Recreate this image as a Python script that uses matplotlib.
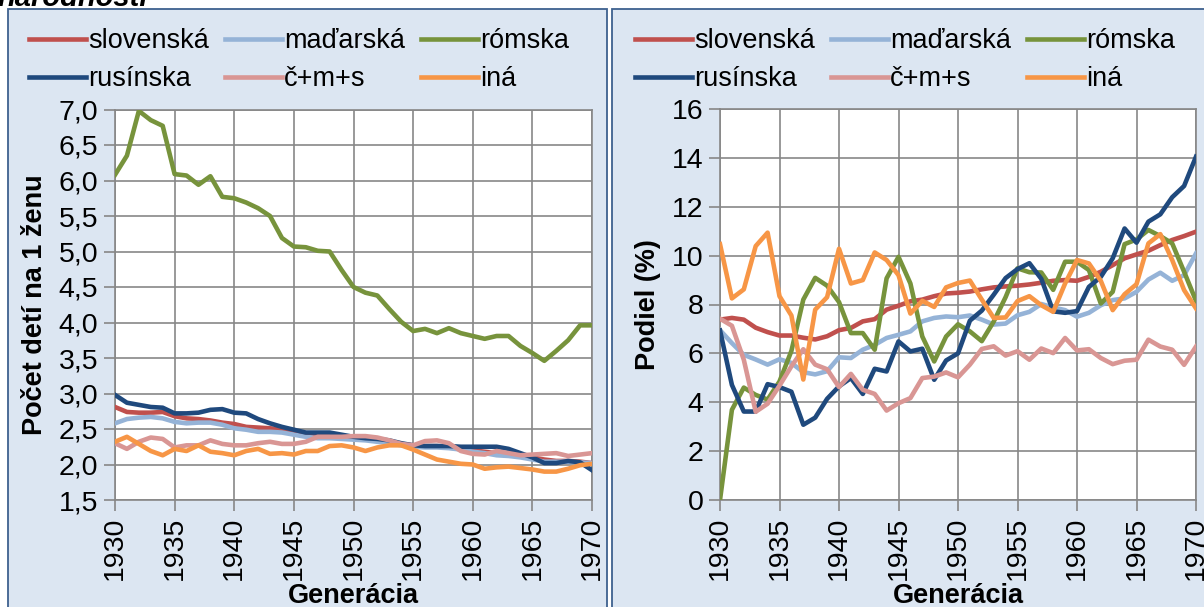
import numpy as np
import matplotlib
matplotlib.use("Agg")
import matplotlib.pyplot as plt
from matplotlib.patches import Rectangle

plt.rcParams['font.family'] = ['Liberation Sans', 'DejaVu Sans']

years = np.arange(1930, 1971)
names = ['slovenská', 'maďarská', 'rómska', 'rusínska', 'č+m+s', 'iná']
colors = ['#C0504D', '#95B3D7', '#77933C', '#1F497D', '#D99694', '#F79646']

# počet detí na 1 ženu
slov_f = [2.81, 2.74, 2.73, 2.73, 2.74, 2.68, 2.65, 2.64, 2.62, 2.59, 2.57,
          2.53, 2.52, 2.51, 2.49, 2.46, 2.44, 2.43, 2.42, 2.40, 2.38,
          2.36, 2.34, 2.31, 2.29, 2.27, 2.26, 2.26, 2.24, 2.22, 2.20,
          2.18, 2.16, 2.14, 2.12, 2.10, 2.07, 2.05, 2.05, 2.04, 2.02]
mad_f = [2.58, 2.64, 2.66, 2.67, 2.65, 2.60, 2.58, 2.59, 2.59, 2.56, 2.51,
         2.49, 2.46, 2.46, 2.45, 2.42, 2.39, 2.37, 2.37, 2.36, 2.35,
         2.34, 2.32, 2.30, 2.27, 2.25, 2.24, 2.24, 2.23, 2.21, 2.18,
         2.16, 2.13, 2.12, 2.10, 2.07, 2.04, 2.04, 2.04, 2.03, 2.02]
rom_f = [6.08, 6.35, 6.98, 6.85, 6.77, 6.09, 6.07, 5.94, 6.06, 5.77, 5.75,
         5.69, 5.61, 5.50, 5.19, 5.07, 5.06, 5.01, 5.00, 4.74, 4.50,
         4.42, 4.38, 4.19, 4.01, 3.88, 3.91, 3.85, 3.92, 3.85, 3.81,
         3.77, 3.81, 3.81, 3.67, 3.57, 3.46, 3.60, 3.75, 3.96, 3.96]
rus_f = [2.98, 2.87, 2.84, 2.81, 2.80, 2.72, 2.72, 2.73, 2.77, 2.78, 2.73,
         2.72, 2.64, 2.58, 2.53, 2.49, 2.45, 2.45, 2.45, 2.42, 2.39,
         2.37, 2.36, 2.34, 2.30, 2.27, 2.26, 2.26, 2.26, 2.25, 2.25,
         2.25, 2.25, 2.22, 2.16, 2.10, 2.02, 2.02, 2.05, 2.03, 1.92]
cms_f = [2.30, 2.22, 2.32, 2.38, 2.36, 2.24, 2.27, 2.27, 2.34, 2.29, 2.27,
         2.27, 2.30, 2.32, 2.29, 2.29, 2.32, 2.39, 2.39, 2.39, 2.40,
         2.40, 2.38, 2.34, 2.29, 2.27, 2.33, 2.34, 2.30, 2.19, 2.15,
         2.14, 2.19, 2.16, 2.13, 2.14, 2.15, 2.16, 2.12, 2.14, 2.16]
ina_f = [2.32, 2.39, 2.29, 2.19, 2.13, 2.22, 2.19, 2.27, 2.18, 2.16, 2.13,
         2.19, 2.22, 2.15, 2.16, 2.14, 2.19, 2.19, 2.26, 2.27, 2.24,
         2.19, 2.24, 2.27, 2.27, 2.21, 2.14, 2.07, 2.04, 2.01, 2.00,
         1.94, 1.96, 1.97, 1.95, 1.93, 1.90, 1.90, 1.94, 1.99, 2.01]

# podiel (%)
slov_p = [7.38, 7.45, 7.38, 7.05, 6.87, 6.73, 6.73, 6.64, 6.57, 6.70, 6.95,
          7.04, 7.31, 7.40, 7.79, 7.95, 8.13, 8.20, 8.34, 8.45, 8.48,
          8.53, 8.62, 8.70, 8.74, 8.77, 8.82, 8.89, 8.97, 9.00, 8.97,
          9.13, 9.34, 9.61, 9.89, 10.05, 10.20, 10.43, 10.64, 10.80, 10.98]
mad_p = [6.95, 6.42, 5.94, 5.75, 5.54, 5.76, 5.61, 5.23, 5.14, 5.27, 5.84,
         5.81, 6.15, 6.35, 6.63, 6.76, 6.90, 7.31, 7.45, 7.51, 7.48,
         7.55, 7.38, 7.18, 7.22, 7.56, 7.70, 8.02, 7.88, 7.77, 7.50,
         7.66, 7.97, 8.18, 8.25, 8.52, 9.02, 9.30, 8.97, 9.20, 10.09]
rom_p = [0.00, 3.69, 4.60, 4.30, 4.11, 4.85, 6.10, 8.20, 9.09, 8.77, 8.10,
         6.83, 6.83, 6.15, 9.07, 9.95, 8.86, 6.69, 5.67, 6.69, 7.19,
         6.90, 6.50, 7.30, 8.30, 9.48, 9.32, 9.31, 8.60, 9.75, 9.75,
         9.41, 8.04, 8.52, 10.47, 10.66, 11.05, 10.80, 10.50, 9.34, 8.15]
rus_p = [6.94, 4.71, 3.62, 3.62, 4.74, 4.62, 4.43, 3.08, 3.37, 4.14, 4.65,
         4.99, 4.34, 5.37, 5.26, 6.49, 6.08, 6.19, 4.92, 5.71, 6.00,
         7.34, 7.75, 8.40, 9.08, 9.45, 9.69, 9.05, 7.72, 7.66, 7.73,
         8.72, 9.13, 9.89, 11.11, 10.53, 11.39, 11.69, 12.39, 12.85, 14.05]
cms_p = [7.42, 7.13, 5.74, 3.61, 3.94, 4.68, 5.47, 6.17, 5.54, 5.35, 4.62,
         5.16, 4.51, 4.34, 3.66, 3.96, 4.17, 4.99, 5.05, 5.22, 5.02,
         5.54, 6.18, 6.29, 5.91, 6.09, 5.74, 6.20, 6.01, 6.63, 6.12,
         6.17, 5.81, 5.56, 5.70, 5.74, 6.56, 6.28, 6.15, 5.53, 6.28]
ina_p = [10.47, 8.25, 8.62, 10.39, 10.94, 8.34, 7.55, 4.93, 7.79, 8.30, 10.28,
         8.86, 9.00, 10.13, 9.82, 9.20, 7.63, 8.15, 7.90, 8.70, 8.88,
         8.98, 8.20, 7.45, 7.47, 8.14, 8.34, 7.97, 7.70, 8.86, 9.82,
         9.68, 8.97, 7.77, 8.42, 8.83, 10.50, 10.88, 9.82, 8.59, 7.84]

W, H = 1204, 607
fig = plt.figure(figsize=(W / 100, H / 100), dpi=100)
fig.patch.set_facecolor('white')

GRID = '#878787'
BOX = '#DCE6F2'
EDGE = '#3E618F'
FS = 19.5


def px(x0, y0, x1, y1):
    # pixel box (top-left origin) -> figure fraction rect
    return [x0 / W, 1 - y1 / H, (x1 - x0) / W, (y1 - y0) / H]


# panel backgrounds
for x0, x1 in [(8, 607), (612, 1215)]:
    fig.add_artist(Rectangle((x0 / W, -0.05), (x1 - x0) / W, 1.05 - 9 / H,
                             transform=fig.transFigure, facecolor=BOX,
                             edgecolor=EDGE, linewidth=1.3, zorder=-10))

fig.text(-0.002, 1 - 6 / H, 'národnosti', fontsize=21, fontweight='bold',
         style='italic', va='baseline', ha='left')


def style_axes(ax, ylim, yticks, ylabels, ylabel):
    ax.set_facecolor('white')
    ax.set_xlim(1930, 1970)
    ax.set_ylim(*ylim)
    ax.set_xticks(range(1930, 1971, 5))
    ax.set_xticklabels([str(y) for y in range(1930, 1971, 5)], rotation=90)
    ax.set_yticks(yticks)
    ax.set_yticklabels(ylabels)
    ax.grid(True, color=GRID, linewidth=1.2, zorder=0)
    ax.set_axisbelow(True)
    for s in ax.spines.values():
        s.set_color(GRID)
        s.set_linewidth(1.2)
    ax.tick_params(axis='both', length=8, width=1.2, color=GRID,
                   labelsize=FS + 1, pad=4)
    ax.set_xlabel('Generácia', fontsize=FS, fontweight='bold', labelpad=2)
    ax.set_ylabel(ylabel, fontsize=FS, fontweight='bold', labelpad=8)


def draw(ax, series, lx, ly):
    handles = []
    for vals, name, c in zip(series, names, colors):
        h, = ax.plot(years, vals, color=c, linewidth=3.3, label=name,
                     solid_joinstyle='round', zorder=3)
        handles.append(h)
    order = [0, 3, 1, 4, 2, 5]
    ax.legend([handles[i] for i in order], [names[i] for i in order],
              ncol=3, loc='upper left', bbox_to_anchor=(lx / W, 1 - ly / H),
              bbox_transform=fig.transFigure, frameon=False, fontsize=FS,
              handlelength=2.1, handletextpad=0.08, columnspacing=0.6,
              labelspacing=0.45, borderpad=0, borderaxespad=0)


ax1 = fig.add_axes(px(115, 109.5, 592, 500))
draw(ax1, [slov_f, mad_f, rom_f, rus_f, cms_f, ina_f], 29, 28)
yt1 = np.arange(1.5, 7.01, 0.5)
style_axes(ax1, (1.5, 7.0), yt1, [f'{v:.1f}'.replace('.', ',') for v in yt1],
           'Počet detí na 1 ženu')

ax2 = fig.add_axes(px(720, 109, 1196, 500))
draw(ax2, [slov_p, mad_p, rom_p, rus_p, cms_p, ina_p], 635, 28)
yt2 = np.arange(0, 17, 2)
style_axes(ax2, (0, 16), yt2, [str(v) for v in yt2], 'Podiel (%)')

fig.savefig('out.png', dpi=100)
